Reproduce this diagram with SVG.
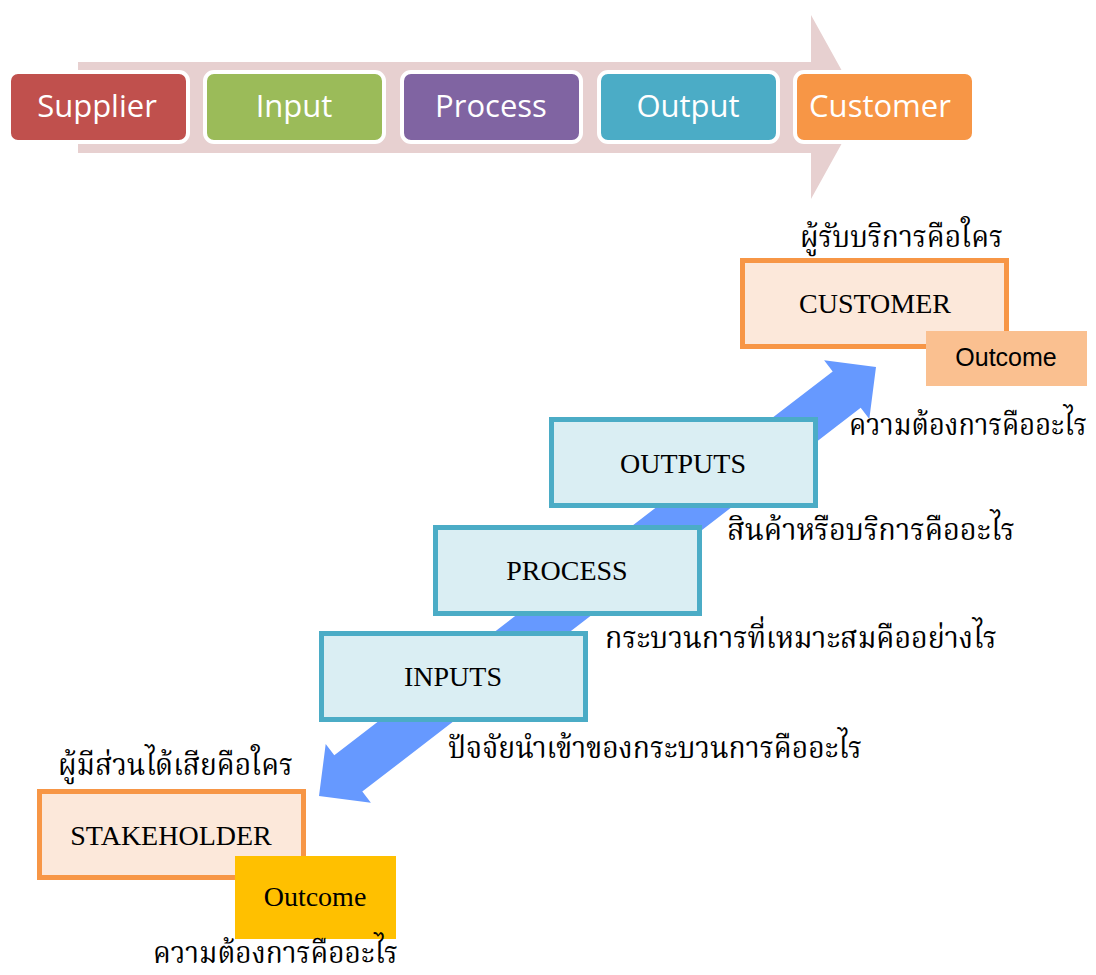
<svg xmlns="http://www.w3.org/2000/svg" width="1096" height="975" viewBox="0 0 1096 975">
<style>
.chev{stroke:#fff;stroke-width:4}
.btxt{font-family:"Open Sans","Noto Sans",sans-serif;font-size:31px;fill:#fff;text-anchor:middle}
.tbox{fill:#DAEEF3;stroke:#4BACC6;stroke-width:5}
.obox{fill:#FCE8DA;stroke:#F79646;stroke-width:5}
.serif{font-family:"Liberation Serif","Times New Roman",serif;font-size:28px;fill:#000;text-anchor:middle}
.thai{font-family:"Noto Serif Thai","Noto Sans Thai","Loma","Garuda","DejaVu Sans",serif;font-size:30px;fill:#000}
</style>
<rect width="1096" height="975" fill="#fff"/>
<g id="banner">
<polygon points="78,62 811,62 811,15 862,107 811,199 811,153 78,153" fill="#E7D0D0"/>
</g>
<g id="supplier"><rect class="chev" x="9" y="72" width="179" height="70" rx="9" fill="#C0504D"/><text class="btxt" x="97" y="117">Supplier</text></g>
<g id="input"><rect class="chev" x="205" y="72" width="179" height="70" rx="9" fill="#9BBB59"/><text class="btxt" x="294" y="117">Input</text></g>
<g id="process"><rect class="chev" x="402" y="72" width="179" height="70" rx="9" fill="#8064A2"/><text class="btxt" x="491" y="117">Process</text></g>
<g id="output"><rect class="chev" x="599" y="72" width="179" height="70" rx="9" fill="#4BACC6"/><text class="btxt" x="688" y="117">Output</text></g>
<g id="customer"><rect class="chev" x="795" y="72" width="179" height="70" rx="9" fill="#F79646"/><text class="btxt" x="880" y="117">Customer</text></g>
<g id="connectors">
<polygon points="876,367 869.3,418.9 860.7,407.8 362.3,791.6 370.9,802.7 319,796 325.7,744.1 334.3,755.2 832.7,371.4 824.1,360.3" fill="#6699FF"/>
</g>
<g id="customer-box">
<text class="thai" x="800" y="247" textLength="203" lengthAdjust="spacingAndGlyphs">ผู้รับบริการคือใคร</text>
<rect class="obox" x="742.5" y="260.5" width="264" height="86"/>
<text class="serif" x="875" y="313">CUSTOMER</text>
</g>
<g id="customer-outcome">
<rect x="926" y="331" width="161" height="55" fill="#FAC090"/>
<text x="1006" y="366" font-family="Liberation Sans, Arial, sans-serif" font-size="25" text-anchor="middle" fill="#000">Outcome</text>
<text class="thai" x="849" y="435" font-size="27" textLength="238" lengthAdjust="spacingAndGlyphs">ความต้องการคืออะไร</text>
</g>
<g id="outputs">
<rect class="tbox" x="551.5" y="419.5" width="264" height="86"/>
<text class="serif" x="683" y="473">OUTPUTS</text>
<text class="thai" x="727" y="540" textLength="288" lengthAdjust="spacingAndGlyphs">สินค้าหรือบริการคืออะไร</text>
</g>
<g id="process-box">
<rect class="tbox" x="435.5" y="527.5" width="264" height="86"/>
<text class="serif" x="567" y="580">PROCESS</text>
<text class="thai" x="605" y="648" textLength="392" lengthAdjust="spacingAndGlyphs">กระบวนการที่เหมาะสมคืออย่างไร</text>
</g>
<g id="inputs">
<rect class="tbox" x="321.5" y="633.5" width="264" height="86"/>
<text class="serif" x="453" y="686">INPUTS</text>
<text class="thai" x="448" y="758" textLength="414" lengthAdjust="spacingAndGlyphs">ปัจจัยนำเข้าของกระบวนการคืออะไร</text>
</g>
<g id="stakeholder">
<text class="thai" x="58" y="775" textLength="235" lengthAdjust="spacingAndGlyphs">ผู้มีส่วนได้เสียคือใคร</text>
<rect class="obox" x="39.5" y="791.5" width="264" height="86"/>
<text class="serif" x="171" y="845">STAKEHOLDER</text>
</g>
<g id="stakeholder-outcome">
<rect x="235" y="856" width="161" height="83" fill="#FFC000"/>
<text class="serif" x="315" y="906">Outcome</text>
<text class="thai" x="153" y="963" font-size="26" textLength="245" lengthAdjust="spacingAndGlyphs">ความต้องการคืออะไร</text>
</g>
</svg>
